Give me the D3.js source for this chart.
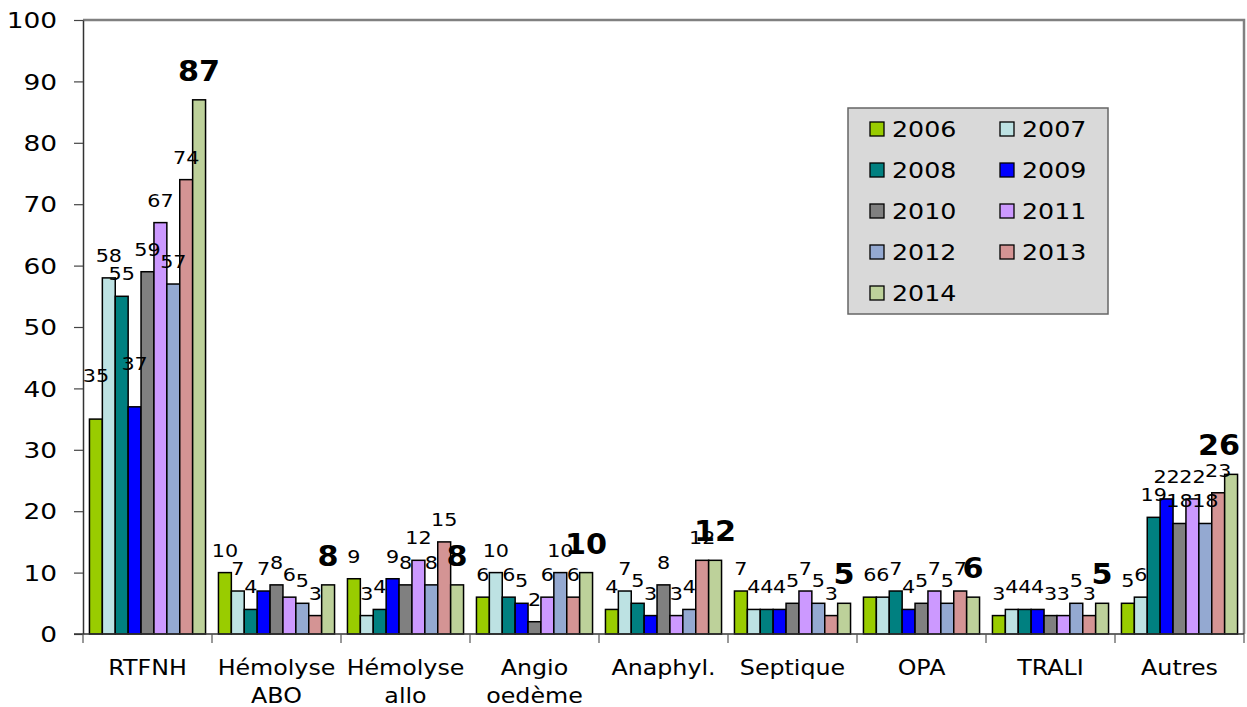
<!DOCTYPE html>
<html>
<head>
<meta charset="utf-8">
<script src="https://cdn.jsdelivr.net/npm/d3@7"></script>
<style>
  html, body { margin: 0; padding: 0; background: #fff; }
  svg { display: block; font-family: "DejaVu Sans", Verdana, sans-serif; }
</style>
</head>
<body>
<svg id="chart" width="1247" height="707"></svg>
<script>
// Incidents by type, one bar per year
const categories = ["RTFNH", "Hémolyse ABO", "Hémolyse allo", "Angio oedème", "Anaphyl.", "Septique", "OPA", "TRALI", "Autres"];
const categoryLines = [["RTFNH"], ["Hémolyse", "ABO"], ["Hémolyse", "allo"], ["Angio", "oedème"], ["Anaphyl."], ["Septique"], ["OPA"], ["TRALI"], ["Autres"]];
const years = ["2006", "2007", "2008", "2009", "2010", "2011", "2012", "2013", "2014"];
const yearColors = ["#99cc00", "#bde2e3", "#008080", "#0000ff", "#808080", "#cc99ff", "#94a9d1", "#d49494", "#bdd19a"];

const v2006 = [35, 10, 9, 6, 4, 7, 6, 3, 5];
const v2007 = [58, 7, 3, 10, 7, 4, 6, 4, 6];
const v2008 = [55, 4, 4, 6, 5, 4, 7, 4, 19];
const v2009 = [37, 7, 9, 5, 3, 4, 4, 4, 22];
const v2010 = [59, 8, 8, 2, 8, 5, 5, 3, 18];
const v2011 = [67, 6, 12, 6, 3, 7, 7, 3, 22];
const v2012 = [57, 5, 8, 10, 4, 5, 5, 5, 18];
const v2013 = [74, 3, 15, 6, 12, 3, 7, 3, 23];
const v2014 = [87, 8, 8, 10, 12, 5, 6, 5, 26];
const series = [v2006, v2007, v2008, v2009, v2010, v2011, v2012, v2013, v2014];

const yTicks = [0, 10, 20, 30, 40, 50, 60, 70, 80, 90, 100];

// labels that were lifted away from crowded bar tops
const labelLift = { "RTFNH|2006": 21, "RTFNH|2009": 21 };

const svg = d3.select("#chart");
const plotL = 83, plotR = 1244, plotT = 20, plotB = 634;

const x0 = d3.scaleBand().domain(categories).range([plotL, plotR]).paddingInner(0).paddingOuter(0);
const x1 = d3.scaleBand().domain(years).range([0, x0.bandwidth()]).paddingInner(0).paddingOuter(0.5);
const y = d3.scaleLinear().domain([0, 100]).range([plotB, plotT]);

// helper: horizontally widened text
function wideText(sel, x, yy, sx) {
  return sel.attr("transform", `translate(${x},${yy}) scale(${sx},1)`);
}

// plot frame (top and right)
svg.append("path")
  .attr("d", `M${plotL},${plotT}H${plotR}V${plotB}`)
  .attr("fill", "none").attr("stroke", "#808080").attr("stroke-width", 2.5);

// bars
const rows = [];
categories.forEach((c, ci) => {
  years.forEach((yr, si) => rows.push({ c, yr, si, v: series[si][ci] }));
});

svg.append("g").selectAll("rect").data(rows).join("rect")
  .attr("x", d => x0(d.c) + x1(d.yr))
  .attr("y", d => y(d.v))
  .attr("width", x1.bandwidth())
  .attr("height", d => y(0) - y(d.v))
  .attr("fill", d => yearColors[d.si])
  .attr("stroke", "#000").attr("stroke-width", 1.5);

// y axis
const yAxis = svg.append("g").attr("transform", `translate(${plotL},0)`)
  .call(d3.axisLeft(y).tickValues(yTicks).tickSize(9).tickSizeOuter(0));
yAxis.select(".domain").attr("stroke", "#333").attr("stroke-width", 1.5);
yAxis.selectAll(".tick line").attr("stroke", "#444").attr("stroke-width", 1.2);
yAxis.selectAll(".tick text")
  .attr("x", 0).attr("dy", "0.35em")
  .attr("transform", "translate(-26,0) scale(1.2,1)")
  .attr("font-size", 22).attr("fill", "#000")
  .attr("font-family", "DejaVu Sans, Verdana, sans-serif");

// x axis baseline and category separators
svg.append("line").attr("x1", plotL - 9).attr("x2", plotR).attr("y1", plotB).attr("y2", plotB)
  .attr("stroke", "#333").attr("stroke-width", 1.5);
const seps = categories.map(c => x0(c)).concat([plotR]);
svg.append("g").selectAll("line").data(seps).join("line")
  .attr("x1", d => d).attr("x2", d => d)
  .attr("y1", plotB).attr("y2", plotB + 9)
  .attr("stroke", "#555").attr("stroke-width", 1.2);

// category labels
const catG = svg.append("g");
categoryLines.forEach((lines, ci) => {
  const cx = x0(categories[ci]) + x0.bandwidth() / 2;
  lines.forEach((ln, li) => {
    wideText(catG.append("text"), cx, 675 + li * 28, 1.08)
      .attr("text-anchor", "middle").attr("font-size", 22).attr("fill", "#000").text(ln);
  });
});

// value labels (kept inside the plot frame on the right)
const lblG = svg.append("g");
rows.forEach(d => {
  let cx = x0(d.c) + x1(d.yr) + x1.bandwidth() / 2;
  const last = d.si === years.length - 1;
  const lift = labelLift[d.c + "|" + d.yr] || 0;
  const sx = last ? 1.08 : 1.15;
  const t = lblG.append("text")
    .attr("text-anchor", "middle")
    .attr("font-size", last ? 28 : 18)
    .attr("font-weight", last ? "bold" : "normal")
    .attr("fill", "#000").text(d.v);
  const halfW = t.node().getComputedTextLength() * sx / 2;
  cx = Math.min(cx, plotR - 4 - halfW);
  wideText(t, cx, y(d.v) - (last ? 19 : 16) - lift, sx);
});

// legend
const lg = svg.append("g");
lg.append("rect").attr("x", 848).attr("y", 108).attr("width", 260).attr("height", 206)
  .attr("fill", "#d9d9d9").attr("stroke", "#666").attr("stroke-width", 1.5);
years.forEach((yr, i) => {
  const col = i % 2, row = Math.floor(i / 2);
  const sx = 870 + col * 130, cy = 129 + row * 41;
  lg.append("rect").attr("x", sx).attr("y", cy - 7).attr("width", 14).attr("height", 14)
    .attr("fill", yearColors[i]).attr("stroke", "#000").attr("stroke-width", 1.3);
  wideText(lg.append("text"), sx + 22, cy + 8, 1.15)
    .attr("font-size", 22).attr("fill", "#000").text(yr);
});
</script>
</body>
</html>
